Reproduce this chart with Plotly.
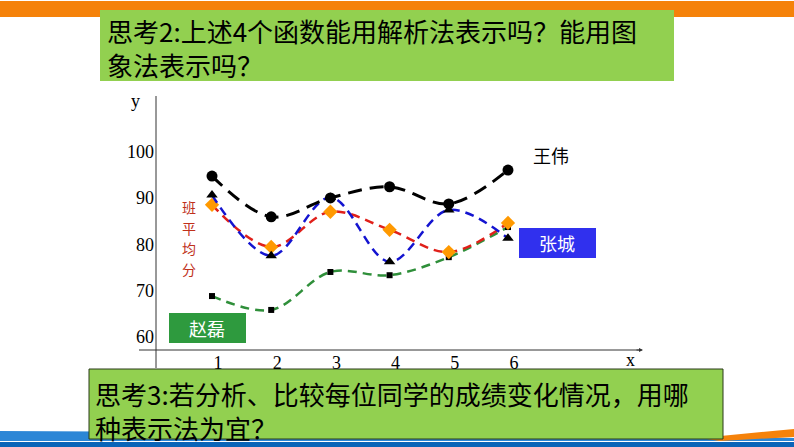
import plotly.graph_objects as go

W, H = 794, 447

# ---- data ----
x_days = [1, 2, 3, 4, 5, 6]
wang_wei = [94.7, 85.9, 90.0, 92.4, 88.7, 96.0]
zhang_cheng = [90.6, 77.5, 90.1, 76.2, 87.4, 81.3]
class_avg = [88.5, 79.4, 87.0, 83.1, 78.3, 84.6]
zhao_lei = [68.8, 65.8, 74.0, 73.3, 77.2, 83.7]
y_ticks = [60, 70, 80, 90, 100]
x_ticks = [1, 2, 3, 4, 5, 6]

title_top = ["思考2:上述4个函数能用解析法表示吗？能用图", "象法表示吗？"]
title_bottom = ["思考3:若分析、比较每位同学的成绩变化情况，用哪", "种表示法为宜？"]
avg_label = ["班", "平", "均", "分"]


def X(px):
    return px / W


def Y(py):
    return 1 - py / H


CJK = "Noto Sans CJK SC"
SERIF = "Liberation Serif"

fig = go.Figure()

series = [
    ("赵磊", zhao_lei, "#2f8f3a", 2.5, "9px,6px", "square", 6, "#000000"),
    ("班平均分", class_avg, "#e0201a", 2.5, "9px,6px", "diamond", 11, "#FF9900"),
    ("张城", zhang_cheng, "#1414d0", 2.5, "9px,6px", "triangle-up", 10, "#000000"),
    ("王伟", wang_wei, "#000000", 3, "14px,8px", "circle", 11, "#000000"),
]
for name, vals, col, w, dash, sym, size, mcol in series:
    fig.add_trace(go.Scatter(
        x=x_days, y=vals, name=name, mode="lines+markers",
        line=dict(color=col, width=w, dash=dash, shape="spline"),
        marker=dict(symbol=sym, size=size, color=mcol),
        showlegend=False, cliponaxis=False,
    ))

shapes = []
# top orange bar
shapes.append(dict(type="rect", xref="paper", yref="paper", x0=0, x1=1, y0=Y(17), y1=Y(1),
                   fillcolor="#F5820A", line=dict(width=0), layer="below"))
# bottom decorative stripes
shapes.append(dict(type="path", xref="paper", yref="paper",
                   path=f"M 0 {Y(431)} L {X(400)} {Y(433)} L 1 {Y(438)} L 1 {Y(441)} L 0 {Y(441)} Z",
                   fillcolor="#2C86D6", line=dict(width=0), layer="below"))
shapes.append(dict(type="path", xref="paper", yref="paper",
                   path=f"M {X(700)} {Y(438)} L 1 {Y(429)} L 1 {Y(437)} L {X(720)} {Y(441)} Z",
                   fillcolor="#F5820A", line=dict(width=0), layer="below"))
shapes.append(dict(type="rect", xref="paper", yref="paper", x0=0, x1=1, y0=0, y1=Y(442),
                   fillcolor="#0A64B8", line=dict(width=0), layer="below"))
# green boxes
shapes.append(dict(type="rect", xref="paper", yref="paper", x0=X(100), x1=X(674), y0=Y(81), y1=Y(10),
                   fillcolor="#92D050", line=dict(width=0), layer="below"))
shapes.append(dict(type="rect", xref="paper", yref="paper", x0=X(89), x1=X(723), y0=Y(439), y1=Y(369),
                   fillcolor="#92D050", line=dict(width=1, color="#2a3a1a"), layer="below"))
# label boxes
shapes.append(dict(type="rect", xref="paper", yref="paper", x0=X(519), x1=X(596), y0=Y(258), y1=Y(228),
                   fillcolor="#3030EE", line=dict(width=0), layer="below"))
shapes.append(dict(type="rect", xref="paper", yref="paper", x0=X(169), x1=X(246), y0=Y(343), y1=Y(313),
                   fillcolor="#2E9A3E", line=dict(width=0), layer="below"))
# axes lines
shapes.append(dict(type="line", xref="paper", yref="paper", x0=X(139), x1=X(640), y0=Y(350), y1=Y(350),
                   line=dict(width=1, color="#333333"), layer="below"))
shapes.append(dict(type="line", xref="paper", yref="paper", x0=X(156), x1=X(156), y0=Y(96), y1=Y(368),
                   line=dict(width=1, color="#333333"), layer="below"))

ann = []
# arrow of x axis
ann.append(dict(xref="paper", yref="paper", x=X(643), y=Y(350), ax=-8, ay=0, text="",
                showarrow=True, arrowhead=2, arrowsize=0.8, arrowwidth=1, arrowcolor="#333333"))
ann.append(dict(xref="paper", yref="paper", x=X(135), y=Y(101), text="y", showarrow=False,
                xanchor="center", yanchor="middle",
                font=dict(family=SERIF, size=18, color="#000")))
ann.append(dict(xref="paper", yref="paper", x=X(630), y=Y(360), text="x", showarrow=False,
                xanchor="center", yanchor="middle",
                font=dict(family=SERIF, size=18, color="#000")))
# titles
ann.append(dict(xref="paper", yref="paper", x=X(105), y=Y(48), text="<br>".join(title_top),
                showarrow=False, xanchor="left", yanchor="middle", align="left",
                font=dict(family=CJK, size=26, color="#000")))
ann.append(dict(xref="paper", yref="paper", x=X(93), y=Y(410), text="<br>".join(title_bottom),
                showarrow=False, xanchor="left", yanchor="middle", align="left",
                font=dict(family=CJK, size=26, color="#000")))
# series labels
ann.append(dict(xref="paper", yref="paper", x=X(551), y=Y(155), text="王伟", showarrow=False,
                xanchor="center", yanchor="middle",
                font=dict(family=CJK, size=18, color="#000")))
ann.append(dict(xref="paper", yref="paper", x=X(557), y=Y(243), text="张城", showarrow=False,
                xanchor="center", yanchor="middle",
                font=dict(family=CJK, size=18, color="#ffffff")))
ann.append(dict(xref="paper", yref="paper", x=X(207), y=Y(328), text="赵磊", showarrow=False,
                xanchor="center", yanchor="middle",
                font=dict(family=CJK, size=18, color="#ffffff")))
for i, ch in enumerate(avg_label):
    ann.append(dict(xref="paper", yref="paper", x=X(189), y=Y(207 + 20.6 * i), text=ch,
                    showarrow=False, xanchor="center", yanchor="middle",
                    font=dict(family=CJK, size=14, color="#C0301A")))

fig.update_layout(
    width=W, height=H, margin=dict(l=0, r=0, t=0, b=0),
    paper_bgcolor="#ffffff", plot_bgcolor="rgba(0,0,0,0)",
    shapes=shapes, annotations=ann,
    xaxis=dict(domain=[X(156), X(642)], range=[0.054, 8.264], tickvals=x_ticks,
               showgrid=False, zeroline=False, showline=False, ticks="",
               ticklabelshift=6, ticklabelstandoff=0,
               tickfont=dict(family=SERIF, size=18, color="#000")),
    yaxis=dict(domain=[Y(350), Y(96)], range=[57.15, 112.0], tickvals=y_ticks,
               showgrid=False, zeroline=False, showline=False, ticks="",
               ticklabelstandoff=1,
               tickfont=dict(family=SERIF, size=18, color="#000")),
)

fig.write_html("out.html")
